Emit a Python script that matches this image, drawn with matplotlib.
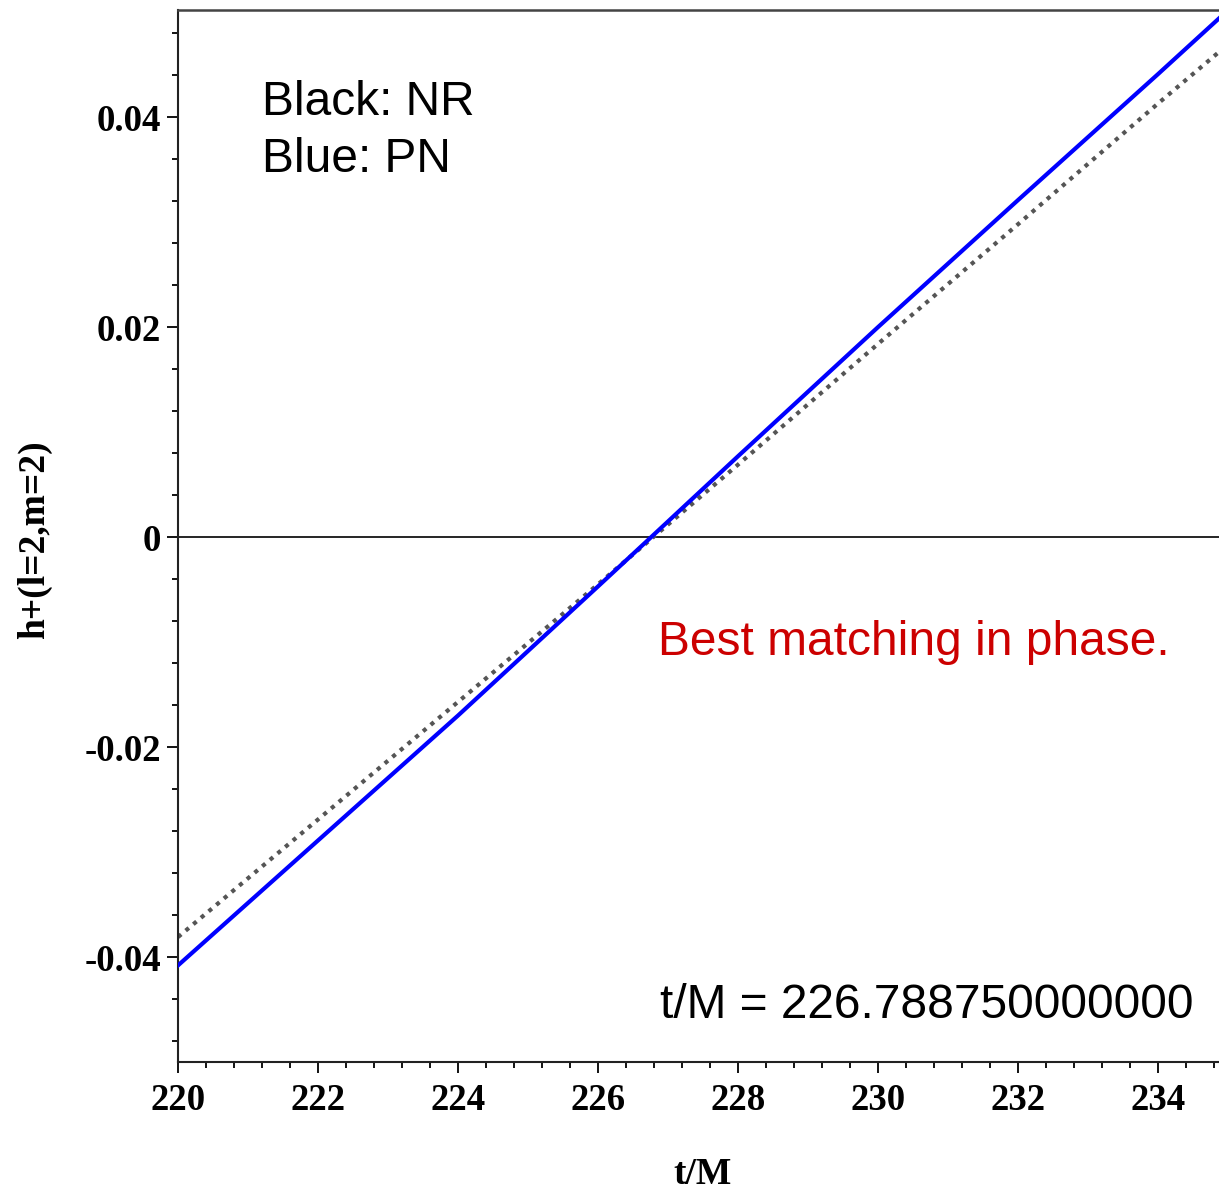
import numpy as np
import matplotlib
matplotlib.use('Agg')
import matplotlib.pyplot as plt
from matplotlib.ticker import MultipleLocator

# values
t_pn = [220.0, 222.0, 224.0, 226.0, 226.76, 228.0, 230.0, 232.0, 234.0, 234.87]
h_pn = [-0.0408, -0.0289, -0.0170, -0.0047, 0.0000, 0.0077, 0.0200, 0.0321, 0.0441, 0.0494]

t_nr = [220.0, 222.0, 224.0, 226.0, 226.79, 228.0, 230.0, 232.0, 234.0, 234.87]
h_nr = [-0.0381, -0.0269, -0.0157, -0.0045, 0.0000, 0.0069, 0.0184, 0.0298, 0.0413, 0.0462]

x_ticks = [220, 222, 224, 226, 228, 230, 232, 234]
y_ticks = [-0.04, -0.02, 0.0, 0.02, 0.04]
y_tick_labels = ['-0.04', '-0.02', '0', '0.02', '0.04']

fig = plt.figure(figsize=(12.19, 11.95), dpi=100)
ax = fig.add_axes([178 / 1219, 1 - 1062 / 1195, 1 - 178 / 1219, (1062 - 10) / 1195])

ax.axhline(0, color='black', lw=1.2, zorder=1)
ax.plot(t_nr, h_nr, color='#555555', lw=3.0, linestyle=(0, (1.0, 1.4)), zorder=2)
ax.plot(t_pn, h_pn, color='#0000ff', lw=3.0, zorder=3)

ax.set_xlim(220, 234.87)
ax.set_ylim(-0.05, 0.0502)

serif = {'family': 'Liberation Serif', 'weight': 'bold', 'size': 26.5}
ax.set_xticks(x_ticks)
ax.set_xticklabels([str(v) for v in x_ticks], fontdict=serif)
ax.set_yticks(y_ticks)
ax.set_yticklabels(y_tick_labels, fontdict=serif)
ax.xaxis.set_minor_locator(MultipleLocator(0.4))
ax.yaxis.set_minor_locator(MultipleLocator(0.004))
ax.tick_params(which='major', length=8, width=1.3, direction='out', pad=4)
ax.tick_params(which='minor', length=4, width=1.3, direction='out')
ax.tick_params(axis='x', pad=7)

ax.spines['right'].set_visible(False)
ax.spines['top'].set_color('#444444')
ax.spines['top'].set_linewidth(1.8)
ax.spines['left'].set_linewidth(1.5)
ax.spines['bottom'].set_linewidth(1.5)
for s in ['left', 'bottom']:
    ax.spines[s].set_color('#222222')

label_font = dict(serif, size=27)
fig.text(703 / 1219, 1 - 1174 / 1195, 't/M', ha='center', va='center', **label_font)
fig.text(35 / 1219, 1 - 540 / 1195, 'h+(l=2,m=2)', ha='center', va='center',
         rotation=90, **label_font)

sans = {'family': 'Liberation Sans', 'size': 34.5}
fig.text(262 / 1219, 1 - 115 / 1195, 'Black: NR', ha='left', va='baseline', **sans)
fig.text(262 / 1219, 1 - 172 / 1195, 'Blue: PN', ha='left', va='baseline', **sans)
fig.text(658 / 1219, 1 - 655 / 1195, 'Best matching in phase.', ha='left', va='baseline',
         color='#cc0000', **sans)
fig.text(660 / 1219, 1 - 1018 / 1195, 't/M = 226.788750000000', ha='left', va='baseline', **sans)

fig.savefig('out.png', dpi=100)
